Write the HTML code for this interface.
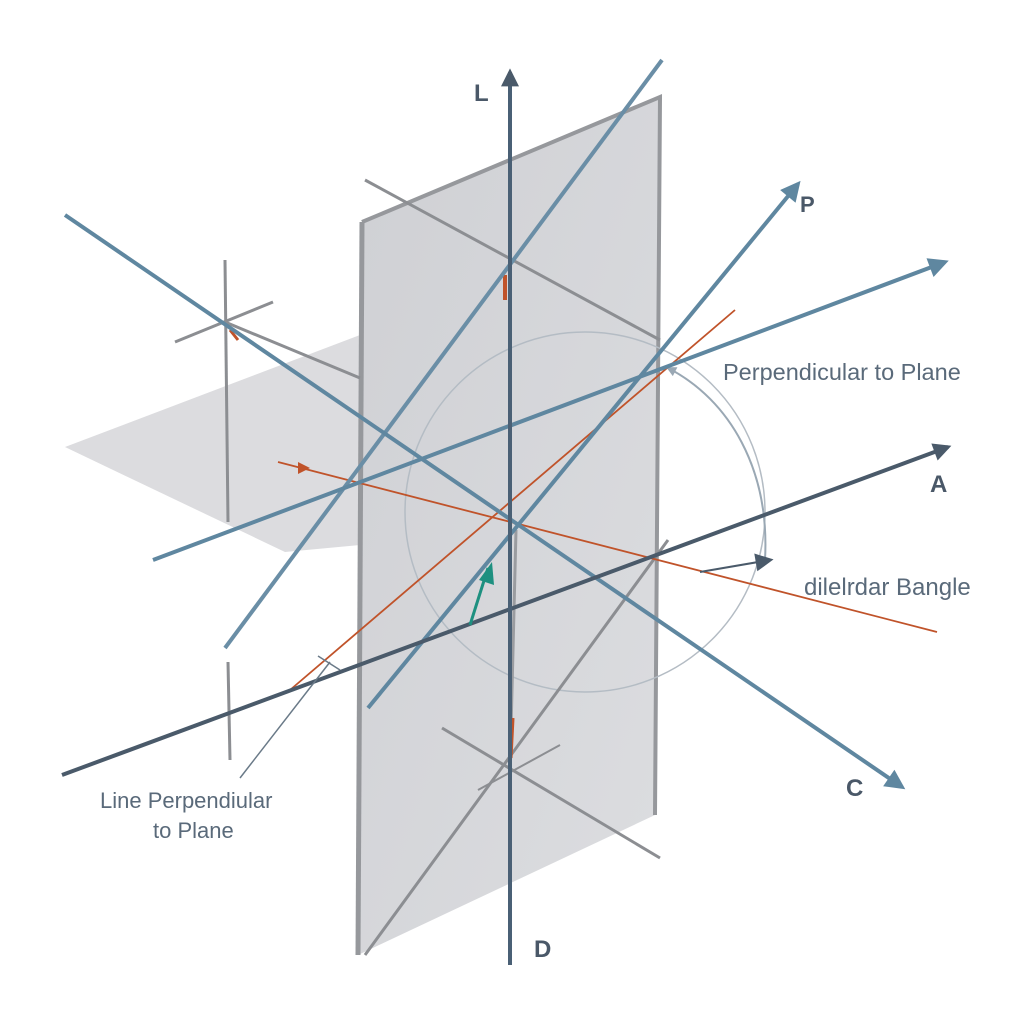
<!DOCTYPE html>
<html><head><meta charset="utf-8"><style>
html,body{margin:0;padding:0;background:#fff;}
svg{display:block;}
text{font-family:"Liberation Sans",sans-serif;}
</style></head><body>
<svg width="1024" height="1024" viewBox="0 0 1024 1024" xmlns="http://www.w3.org/2000/svg">
<defs>
<marker id="ad" viewBox="0 0 10 10" refX="8" refY="5" markerWidth="22" markerHeight="18" orient="auto" markerUnits="userSpaceOnUse"><path d="M0,0 L10,5 L0,10 z" fill="#4a5a6a"/></marker>
<marker id="abig" viewBox="0 0 10 10" refX="8" refY="5" markerWidth="24" markerHeight="20" orient="auto" markerUnits="userSpaceOnUse"><path d="M0,0 L10,5 L0,10 z" fill="#5f87a0"/></marker>
<marker id="ag" viewBox="0 0 10 10" refX="8" refY="5" markerWidth="12" markerHeight="10" orient="auto" markerUnits="userSpaceOnUse"><path d="M0,0 L10,5 L0,10 z" fill="#9aa8b4"/></marker>
<linearGradient id="vp" x1="0" y1="0" x2="1" y2="1"><stop offset="0" stop-color="#cfd0d4"/><stop offset="1" stop-color="#dcdde0"/></linearGradient>
</defs>
<polygon points="65,447 360,335 470,400 360,545 285,552" fill="#dcdcdf"/>
<polygon points="362,222 660,97 655,815 358,955" fill="url(#vp)"/>
<polyline points="362,222 660,97 655,815" fill="none" stroke="#96989c" stroke-width="4"/>
<line x1="362" y1="222" x2="358" y2="955" stroke="#96989c" stroke-width="5"/>
<circle cx="585" cy="512" r="180" fill="none" stroke="#b4bcc4" stroke-width="1.5"/>
<path d="M765,560 C770,470 730,400 668,368" fill="none" stroke="#9aa8b4" stroke-width="2" marker-end="url(#ag)"/>
<line x1="365" y1="180" x2="660" y2="340" stroke="#8c8e92" stroke-width="3"/>
<line x1="442" y1="728" x2="660" y2="858" stroke="#8c8e92" stroke-width="3"/>
<line x1="365" y1="955" x2="668" y2="540" stroke="#8c8e92" stroke-width="3"/>
<line x1="560" y1="745" x2="478" y2="790" stroke="#8c8e92" stroke-width="2"/>
<line x1="225" y1="260" x2="228" y2="522" stroke="#8c8e92" stroke-width="3"/>
<line x1="175" y1="342" x2="273" y2="302" stroke="#8c8e92" stroke-width="3"/>
<line x1="225" y1="322" x2="360" y2="378" stroke="#8c8e92" stroke-width="3"/>
<line x1="228" y1="662" x2="230" y2="760" stroke="#8c8e92" stroke-width="3"/>
<line x1="516" y1="530" x2="510" y2="770" stroke="#9a9ca0" stroke-width="3"/>
<line x1="290" y1="690" x2="735" y2="310" stroke="#c0532a" stroke-width="1.8"/>
<line x1="278" y1="462" x2="937" y2="632" stroke="#c0532a" stroke-width="1.8"/>
<path d="M298,462 L310,468 L298,474 z" fill="#c0532a"/>
<line x1="505" y1="275" x2="505" y2="300" stroke="#c0532a" stroke-width="4"/>
<line x1="513" y1="718" x2="511" y2="758" stroke="#c0532a" stroke-width="3"/>
<line x1="230" y1="330" x2="238" y2="340" stroke="#c0532a" stroke-width="3"/>
<line x1="225" y1="648" x2="662" y2="60" stroke="#6a8ea6" stroke-width="4"/>
<line x1="368" y1="708" x2="798" y2="184" stroke="#5f87a0" stroke-width="4" marker-end="url(#abig)"/>
<line x1="153" y1="560" x2="945" y2="262" stroke="#5f87a0" stroke-width="4" marker-end="url(#abig)"/>
<line x1="65" y1="215" x2="902" y2="787" stroke="#5f87a0" stroke-width="4" marker-end="url(#abig)"/>
<line x1="62" y1="775" x2="948" y2="447" stroke="#4a5a6a" stroke-width="4" marker-end="url(#ad)"/>
<line x1="510" y1="965" x2="510" y2="72" stroke="#4a6075" stroke-width="4" marker-end="url(#ad)"/>
<line x1="700" y1="572" x2="770" y2="560" stroke="#4a5a6a" stroke-width="2" marker-end="url(#ad)"/>
<line x1="470" y1="625" x2="488" y2="568" stroke="#1e9080" stroke-width="3"/>
<path d="M479,580 L492,562 L494,585 z" fill="#1e9080"/>
<line x1="240" y1="778" x2="330" y2="662" stroke="#6a7a88" stroke-width="1.5"/>
<line x1="318" y1="656" x2="340" y2="670" stroke="#6a7a88" stroke-width="1.5"/>
<text x="474" y="101" font-size="24" font-weight="bold" fill="#4a5868">L</text>
<text x="800" y="212" font-size="22" font-weight="bold" fill="#4a5868">P</text>
<text x="930" y="492" font-size="24" font-weight="bold" fill="#4a5868">A</text>
<text x="846" y="796" font-size="24" font-weight="bold" fill="#4a5868">C</text>
<text x="534" y="957" font-size="24" font-weight="bold" fill="#4a5868">D</text>
<text x="723" y="380" font-size="23.5" fill="#5a6a7a">Perpendicular to Plane</text>
<text x="804" y="595" font-size="24" fill="#5a6a7a">dilelrdar Bangle</text>
<text x="100" y="808" font-size="22" fill="#5a6a7a">Line Perpendiular</text>
<text x="153" y="838" font-size="22" fill="#5a6a7a">to Plane</text>
</svg>
</body></html>
